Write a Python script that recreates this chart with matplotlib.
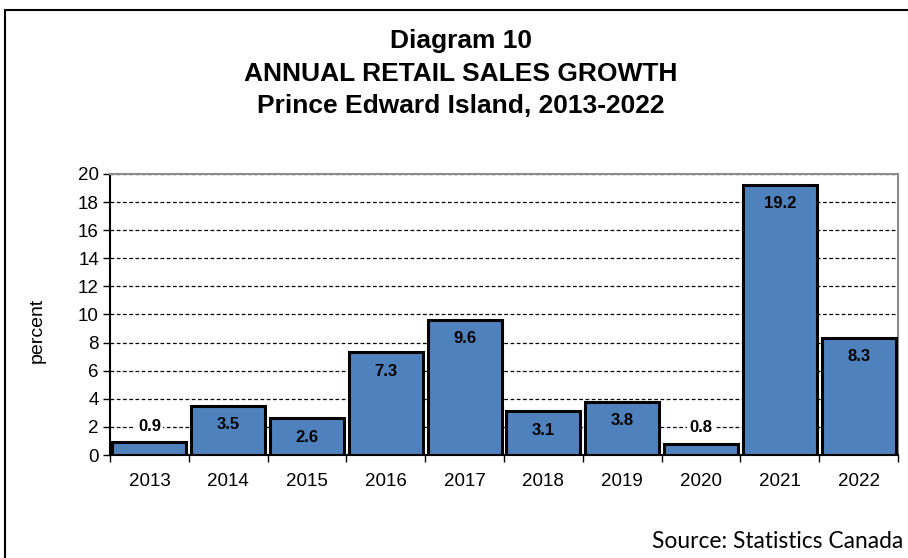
import matplotlib.pyplot as plt
from matplotlib.patches import Rectangle

years = ["2013", "2014", "2015", "2016", "2017", "2018", "2019", "2020", "2021", "2022"]
growth = [0.9, 3.5, 2.6, 7.3, 9.6, 3.1, 3.8, 0.8, 19.2, 8.3]
yticks = [0, 2, 4, 6, 8, 10, 12, 14, 16, 18, 20]

plt.rcParams['font.family'] = ['Liberation Sans', 'DejaVu Sans']

fig = plt.figure(figsize=(9.08, 5.58), dpi=100)
ax = fig.add_axes([110 / 908, 1 - 455 / 558, 788 / 908, 281 / 558])

x = list(range(len(years)))
ax.bar(x, growth, width=0.94, color='#4F81BD', edgecolor='black', linewidth=2.2, zorder=3)

for xi, v in zip(x, growth):
    if v < 2:
        ax.annotate(f"{v}", (xi, v), xytext=(0, 6), textcoords='offset points',
                    ha='center', va='bottom', fontsize=12, fontweight='bold', zorder=4,
                    bbox=dict(boxstyle='square,pad=0.15', fc='white', ec='none'))
    else:
        ax.annotate(f"{v}", (xi, v), xytext=(0, -8), textcoords='offset points',
                    ha='center', va='top', fontsize=12, fontweight='bold', zorder=4)

ax.set_xlim(-0.5, len(years) - 0.5)
ax.set_ylim(0, 20)
ax.set_yticks(yticks)
ax.set_xticks(x)
ax.set_xticklabels(years)
ax.set_xticks([i - 0.5 for i in range(len(years) + 1)], minor=True)
ax.tick_params(axis='x', which='major', length=0, labelsize=13.5, pad=13)
ax.tick_params(axis='x', which='minor', length=5, width=1, direction='out')
ax.tick_params(axis='y', length=5, width=1, labelsize=13.5, pad=3)

ax.yaxis.grid(True, linestyle=(0, (3, 2)), color='black', linewidth=0.9, zorder=0)
ax.set_axisbelow(True)

ax.spines['left'].set_color('black')
ax.spines['left'].set_linewidth(1.5)
ax.spines['bottom'].set_color('black')
ax.spines['bottom'].set_linewidth(1.5)
ax.spines['top'].set_color('#8c8c8c')
ax.spines['top'].set_linewidth(1.5)
ax.spines['right'].set_color('#8c8c8c')
ax.spines['right'].set_linewidth(1.5)

fig.text(37 / 908, 1 - 330 / 558, "percent", ha='center', va='center', rotation=90, fontsize=14)

fig.text(461 / 908, 1 - 41 / 558, "Diagram 10", ha='center', va='center', fontsize=19, fontweight='bold')
fig.text(461 / 908, 1 - 74 / 558, "ANNUAL RETAIL SALES GROWTH", ha='center', va='center', fontsize=19, fontweight='bold')
fig.text(461 / 908, 1 - 106 / 558, "Prince Edward Island, 2013-2022", ha='center', va='center', fontsize=19, fontweight='bold')

fig.text(903 / 908, 1 - 542 / 558, "Source: Statistics Canada", ha='right', va='center',
         fontsize=16.4, family=['Lato', 'DejaVu Sans'])

fig.patches.append(Rectangle((5 / 908, -0.1), 1.2, 1.1 - 10 / 558, transform=fig.transFigure,
                             fill=False, edgecolor='black', linewidth=1.5))

fig.savefig("out.png", dpi=100)
